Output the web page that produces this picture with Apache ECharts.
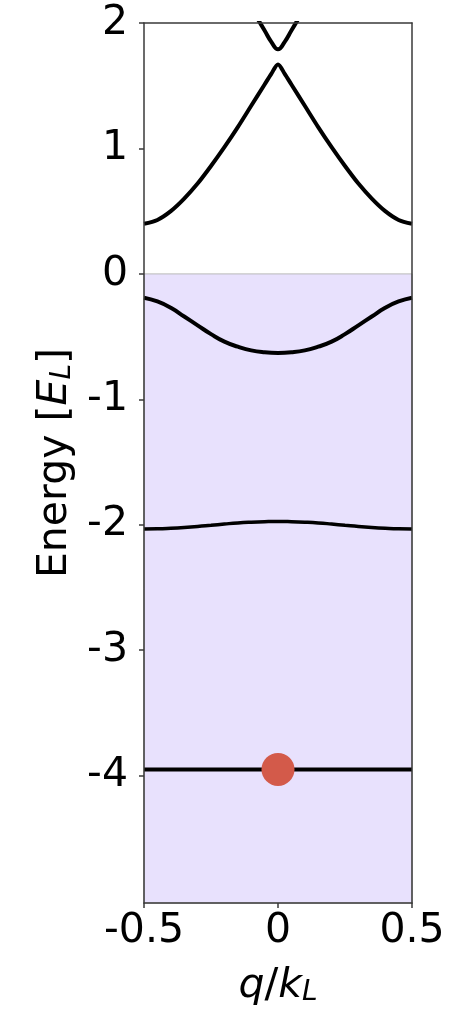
<!DOCTYPE html>
<html>
<head>
<meta charset="utf-8">
<script src="https://cdn.jsdelivr.net/npm/echarts@6/dist/echarts.min.js"></script>
<style>
html,body{margin:0;padding:0;background:#fff;}
#bands{width:459px;height:1009px;}
</style>
</head>
<body>
<div id="bands"></div>
<script>
/*band data*/
var qs = [-0.5, -0.45, -0.4, -0.35, -0.3, -0.25, -0.2, -0.15, -0.1, -0.05, 0,
	0.05, 0.1, 0.15, 0.2, 0.25, 0.3, 0.35, 0.4, 0.45, 0.5];
var qsPeak = [-0.5, -0.45, -0.4, -0.35, -0.3, -0.25, -0.2, -0.15, -0.1, -0.05, -0.025, 0,
	0.025, 0.05, 0.1, 0.15, 0.2, 0.25, 0.3, 0.35, 0.4, 0.45, 0.5];
var band1 = [0.40, 0.43, 0.50, 0.60, 0.72, 0.86, 1.01, 1.17, 1.34, 1.51, 1.595, 1.67,
	1.595, 1.51, 1.34, 1.17, 1.01, 0.86, 0.72, 0.60, 0.50, 0.43, 0.40];
var qsTop = [-0.1, -0.075, -0.05, -0.025, 0, 0.025, 0.05, 0.075, 0.1];
var band2 = [2.12, 2.03, 1.94, 1.85, 1.79, 1.85, 1.94, 2.03, 2.12];
var band0 = [-0.19, -0.22, -0.27, -0.34, -0.41, -0.48, -0.54, -0.58, -0.61, -0.625, -0.63,
	-0.625, -0.61, -0.58, -0.54, -0.48, -0.41, -0.34, -0.27, -0.22, -0.19];
var bandM1 = [-2.033, -2.032, -2.028, -2.022, -2.014, -2.004, -1.994, -1.985, -1.979, -1.975, -1.973,
	-1.975, -1.979, -1.985, -1.994, -2.004, -2.014, -2.022, -2.028, -2.032, -2.033];
var bandM2 = [-3.95, -3.95, -3.95, -3.95, -3.95, -3.95, -3.95, -3.95, -3.95, -3.95, -3.95,
	-3.95, -3.95, -3.95, -3.95, -3.95, -3.95, -3.95, -3.95, -3.95, -3.95];
var dotPoint = [0, -3.95];
var yTicks = [-4, -3, -2, -1, 0, 1, 2];
var yMin = -5.015, yMax = 2;

function pairs(xs, ys){
	var out = [];
	for(var i = 0; i < xs.length; i++){
		out.push([xs[i], ys[i]]);
	}
	return out;
}

function bandLine(xs, ys, w, sm){
	return {
		type : 'line',
		data : pairs(xs, ys),
		smooth : sm,
		showSymbol : false,
		lineStyle : { color : '#000', width : w },
		z : 3
	};
}

var font = 'DejaVu Sans';
var spine = { show : true, onZero : false, lineStyle : { color : '#3a3a3a', width : 1.5 } };

var chart = echarts.init(document.getElementById('bands'));
var option = {
	animation : false,
	grid : {
		left : 144,
		right : 47,
		top : 23,
		bottom : 106,
		containLabel : false,
		outerBoundsMode : 'none'
	},
	xAxis : [ {
		type : 'value',
		min : -0.5,
		max : 0.5,
		interval : 0.5,
		z : 10,
		axisLine : spine,
		axisTick : { show : true, length : 5, lineStyle : { color : '#3a3a3a', width : 1.5 } },
		axisLabel : {
			fontFamily : font,
			fontSize : 41,
			color : '#000',
			margin : 8,
			formatter : function(v){ return String(v); }
		},
		splitLine : { show : false },
		name : '{i|q}{n|/}{i|k}{s|L}',
		nameLocation : 'middle',
		nameGap : 62,
		nameTextStyle : {
			rich : {
				i : { fontFamily : font, fontSize : 41, fontStyle : 'italic', color : '#000' },
				n : { fontFamily : font, fontSize : 41, color : '#000' },
				s : { fontFamily : font, fontSize : 28, fontStyle : 'italic', color : '#000', padding : [14, 0, 0, 0] }
			}
		}
	}, {
		type : 'value',
		position : 'top',
		min : -0.5,
		max : 0.5,
		z : 10,
		axisLine : spine,
		axisTick : { show : false },
		axisLabel : { show : false },
		splitLine : { show : false }
	} ],
	yAxis : [ {
		type : 'value',
		min : yMin,
		max : yMax,
		z : 10,
		axisLine : spine,
		axisTick : {
			show : true,
			length : 5,
			customValues : yTicks,
			lineStyle : { color : '#3a3a3a', width : 1.5 }
		},
		axisLabel : {
			fontFamily : font,
			fontSize : 41,
			color : '#000',
			margin : 16,
			customValues : yTicks,
			formatter : function(v){ return String(v); }
		},
		splitLine : { show : false },
		name : '{n|Energy [}{i|E}{s|L}{n|]}',
		nameLocation : 'middle',
		nameGap : 66,
		nameRotate : 90,
		nameTextStyle : {
			rich : {
				i : { fontFamily : font, fontSize : 41, fontStyle : 'italic', color : '#000' },
				n : { fontFamily : font, fontSize : 41, color : '#000' },
				s : { fontFamily : font, fontSize : 28, fontStyle : 'italic', color : '#000', padding : [14, 0, 0, 0] }
			}
		}
	}, {
		type : 'value',
		position : 'right',
		min : yMin,
		max : yMax,
		z : 10,
		axisLine : spine,
		axisTick : { show : false },
		axisLabel : { show : false },
		splitLine : { show : false }
	} ],
	series : [
		{
			type : 'line',
			data : [],
			z : 1,
			markArea : {
				silent : true,
				itemStyle : { color : '#e8e1fd', borderColor : '#b8b8b8', borderWidth : 1 },
				data : [ [ { yAxis : 0 }, { yAxis : yMin } ] ]
			}
		},
		bandLine(qsPeak, band1, 4, 0.3),
		bandLine(qsTop, band2, 4, 0.5),
		bandLine(qs, band0, 4, 0.5),
		bandLine(qs, bandM1, 3.5, 0.5),
		bandLine(qs, bandM2, 4, 0.5),
		{
			type : 'scatter',
			data : [ dotPoint ],
			symbolSize : 33,
			itemStyle : { color : '#d35a4a', opacity : 1 },
			z : 5
		}
	]
};
chart.setOption(option);
</script>
</body>
</html>
